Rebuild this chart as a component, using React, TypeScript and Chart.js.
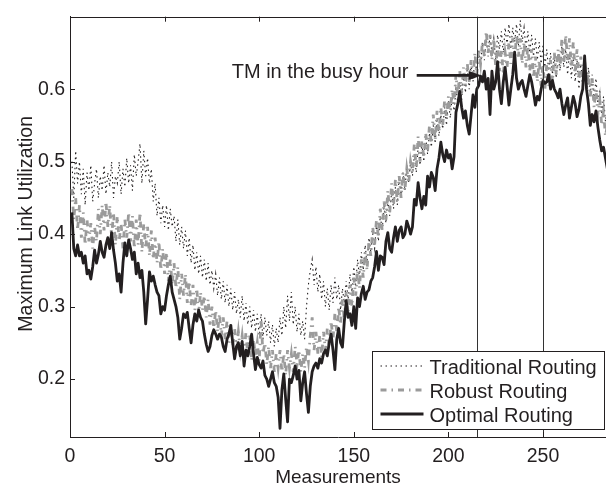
import React, { useEffect, useRef } from "react";
import { Chart, registerables } from "chart.js";

Chart.register(...registerables);

// ---------------- data ----------------
const seriesLabels = ["Traditional Routing", "Robust Routing", "Optimal Routing"];
const xTitle = "Measurements";
const yTitle = "Maximum Link Utilization";
const xTicks = [0, 50, 100, 150, 200, 250];
const yTicks = [0.2, 0.3, 0.4, 0.5, 0.6];
const busyHourBounds = [215, 250];
const annotationText = "TM in the busy hour";
const annotationPoint = { x: 217.6, y: 0.619 };
const xRange = [0, 283.3];
const yRange = [0.12, 0.7];

const traditionalRouting = [
  0.5, 0.45, 0.515, 0.47, 0.5, 0.455, 0.49, 0.44, 0.485, 0.46,
  0.495, 0.445, 0.47, 0.49, 0.45, 0.48, 0.46, 0.495, 0.455, 0.485,
  0.465, 0.5, 0.45, 0.48, 0.47, 0.5, 0.455, 0.49, 0.465, 0.505,
  0.47, 0.495, 0.46, 0.51, 0.48, 0.5, 0.525, 0.47, 0.515, 0.48,
  0.505, 0.47, 0.49, 0.445, 0.47, 0.425, 0.45, 0.415, 0.44, 0.41,
  0.44, 0.405, 0.435, 0.41, 0.425, 0.39, 0.42, 0.385, 0.41, 0.38,
  0.405, 0.37, 0.395, 0.36, 0.385, 0.35, 0.375, 0.345, 0.37, 0.34,
  0.365, 0.335, 0.36, 0.33, 0.35, 0.325, 0.345, 0.315, 0.34, 0.31,
  0.335, 0.305, 0.33, 0.3, 0.325, 0.295, 0.32, 0.29, 0.31, 0.285,
  0.315, 0.28, 0.305, 0.275, 0.3, 0.27, 0.295, 0.265, 0.29, 0.26,
  0.29, 0.255, 0.285, 0.26, 0.28, 0.25, 0.275, 0.245, 0.27, 0.25,
  0.285, 0.26, 0.3, 0.27, 0.315, 0.28, 0.32, 0.275, 0.3, 0.265,
  0.29, 0.26, 0.28, 0.255, 0.3, 0.33, 0.35, 0.365, 0.33, 0.355,
  0.32, 0.345, 0.31, 0.335, 0.3, 0.325, 0.295, 0.33, 0.305, 0.34,
  0.31, 0.33, 0.295, 0.325, 0.305, 0.335, 0.31, 0.345, 0.32, 0.355,
  0.33, 0.365, 0.34, 0.375, 0.35, 0.385, 0.36, 0.395, 0.375, 0.4,
  0.38, 0.415, 0.39, 0.425, 0.405, 0.44, 0.415, 0.45, 0.425, 0.46,
  0.435, 0.465, 0.44, 0.48, 0.45, 0.485, 0.46, 0.495, 0.47, 0.5,
  0.48, 0.51, 0.485, 0.52, 0.495, 0.525, 0.5, 0.535, 0.51, 0.54,
  0.52, 0.55, 0.525, 0.56, 0.535, 0.565, 0.545, 0.575, 0.55, 0.585,
  0.56, 0.59, 0.57, 0.6, 0.58, 0.61, 0.585, 0.62, 0.595, 0.63,
  0.6, 0.635, 0.61, 0.645, 0.62, 0.655, 0.63, 0.665, 0.64, 0.67,
  0.645, 0.675, 0.65, 0.67, 0.64, 0.675, 0.655, 0.68, 0.65, 0.685,
  0.66, 0.69, 0.655, 0.685, 0.665, 0.69, 0.66, 0.695, 0.665, 0.685,
  0.655, 0.68, 0.65, 0.675, 0.645, 0.67, 0.64, 0.665, 0.635, 0.66,
  0.63, 0.655, 0.625, 0.65, 0.62, 0.645, 0.615, 0.65, 0.625, 0.66,
  0.63, 0.655, 0.62, 0.65, 0.615, 0.645, 0.61, 0.64, 0.6, 0.635,
  0.605, 0.64, 0.6, 0.63, 0.595, 0.62, 0.585, 0.615, 0.58, 0.6,
  0.565, 0.59, 0.555, 0.575,
];

const robustRouting = [
  0.462, 0.42, 0.45, 0.405, 0.44, 0.395, 0.43, 0.385, 0.42, 0.39,
  0.415, 0.38, 0.41, 0.39, 0.435, 0.4, 0.44, 0.405, 0.445, 0.41,
  0.44, 0.395, 0.43, 0.385, 0.425, 0.39, 0.415, 0.38, 0.42, 0.395,
  0.43, 0.39, 0.425, 0.38, 0.42, 0.385, 0.43, 0.375, 0.415, 0.38,
  0.41, 0.37, 0.405, 0.365, 0.395, 0.36, 0.39, 0.35, 0.38, 0.345,
  0.375, 0.335, 0.365, 0.33, 0.36, 0.325, 0.355, 0.31, 0.345, 0.315,
  0.345, 0.305, 0.335, 0.3, 0.33, 0.295, 0.325, 0.29, 0.32, 0.295,
  0.315, 0.285, 0.31, 0.275, 0.3, 0.27, 0.295, 0.265, 0.29, 0.26,
  0.285, 0.255, 0.28, 0.25, 0.275, 0.245, 0.27, 0.24, 0.265, 0.24,
  0.26, 0.235, 0.265, 0.23, 0.26, 0.225, 0.255, 0.23, 0.25, 0.225,
  0.28, 0.235, 0.25, 0.22, 0.245, 0.215, 0.24, 0.21, 0.235, 0.215,
  0.24, 0.21, 0.235, 0.205, 0.24, 0.215, 0.235, 0.21, 0.245, 0.22,
  0.24, 0.21, 0.235, 0.215, 0.245, 0.225, 0.26, 0.285, 0.24, 0.265,
  0.235, 0.26, 0.23, 0.265, 0.24, 0.27, 0.245, 0.28, 0.255, 0.29,
  0.265, 0.3, 0.275, 0.31, 0.28, 0.32, 0.29, 0.33, 0.3, 0.34,
  0.315, 0.35, 0.325, 0.365, 0.34, 0.375, 0.35, 0.39, 0.37, 0.41,
  0.385, 0.42, 0.395, 0.435, 0.405, 0.445, 0.42, 0.46, 0.43, 0.47,
  0.44, 0.475, 0.445, 0.48, 0.45, 0.485, 0.46, 0.49, 0.47, 0.5,
  0.485, 0.525, 0.49, 0.535, 0.5, 0.53, 0.505, 0.54, 0.515, 0.55,
  0.525, 0.565, 0.53, 0.57, 0.54, 0.575, 0.55, 0.585, 0.56, 0.59,
  0.57, 0.6, 0.58, 0.62, 0.59, 0.625, 0.595, 0.63, 0.605, 0.635,
  0.61, 0.64, 0.615, 0.65, 0.62, 0.655, 0.635, 0.665, 0.645, 0.68,
  0.65, 0.675, 0.64, 0.67, 0.63, 0.66, 0.625, 0.655, 0.62, 0.65,
  0.63, 0.665, 0.635, 0.67, 0.64, 0.675, 0.645, 0.67, 0.635, 0.665,
  0.63, 0.66, 0.625, 0.655, 0.615, 0.645, 0.61, 0.64, 0.605, 0.635,
  0.6, 0.635, 0.605, 0.64, 0.61, 0.65, 0.62, 0.655, 0.63, 0.67,
  0.635, 0.675, 0.64, 0.67, 0.63, 0.665, 0.625, 0.655, 0.615, 0.645,
  0.61, 0.64, 0.6, 0.625, 0.59, 0.615, 0.575, 0.6, 0.565, 0.585,
  0.55, 0.57, 0.535, 0.55,
];

const optimalRouting = [
  0.43, 0.38, 0.37, 0.385, 0.37, 0.375, 0.36, 0.37, 0.345, 0.35,
  0.338, 0.355, 0.378, 0.36, 0.372, 0.39, 0.375, 0.368, 0.385, 0.395,
  0.38, 0.402, 0.378, 0.36, 0.335, 0.345, 0.32, 0.36, 0.388, 0.37,
  0.392, 0.38, 0.365, 0.375, 0.345, 0.36, 0.34, 0.35, 0.32, 0.276,
  0.31, 0.348, 0.335, 0.342, 0.33, 0.32, 0.315, 0.29, 0.3, 0.295,
  0.315, 0.33, 0.342, 0.32, 0.31, 0.3, 0.285, 0.255, 0.27, 0.29,
  0.285, 0.292, 0.27, 0.25, 0.275, 0.29, 0.28, 0.295, 0.285, 0.28,
  0.262, 0.248, 0.238, 0.245, 0.26, 0.268, 0.262, 0.255, 0.262, 0.258,
  0.245, 0.238, 0.255, 0.262, 0.274, 0.25, 0.228, 0.245, 0.25, 0.232,
  0.252, 0.218, 0.24, 0.232, 0.245, 0.262, 0.235, 0.213, 0.23, 0.22,
  0.215, 0.225, 0.205, 0.2, 0.19, 0.2, 0.21, 0.195, 0.19, 0.175,
  0.132, 0.185, 0.207, 0.172, 0.141, 0.2, 0.195, 0.205, 0.218, 0.2,
  0.212, 0.17, 0.195, 0.21, 0.18, 0.154, 0.19, 0.21, 0.218, 0.222,
  0.215, 0.228, 0.222, 0.235, 0.24, 0.232, 0.25, 0.262, 0.24, 0.213,
  0.255, 0.27, 0.25, 0.244, 0.28, 0.308, 0.285, 0.29, 0.274, 0.3,
  0.27, 0.312, 0.3, 0.318, 0.328, 0.31, 0.32, 0.323, 0.335, 0.34,
  0.355, 0.376, 0.35, 0.37, 0.368, 0.358, 0.39, 0.402, 0.38, 0.375,
  0.395, 0.41, 0.39, 0.405, 0.41, 0.395, 0.4, 0.418, 0.41, 0.4,
  0.41, 0.448, 0.44, 0.471, 0.45, 0.435, 0.452, 0.44, 0.48, 0.465,
  0.485, 0.478, 0.46, 0.49, 0.505, 0.527, 0.51, 0.5, 0.516, 0.505,
  0.51, 0.49, 0.507, 0.568, 0.58, 0.597, 0.575, 0.56, 0.57, 0.55,
  0.538, 0.565, 0.592, 0.575, 0.6, 0.605, 0.618, 0.61, 0.625, 0.6,
  0.615, 0.565, 0.625, 0.6, 0.61, 0.638, 0.6, 0.58, 0.61, 0.63,
  0.605, 0.578, 0.6, 0.62, 0.651, 0.615, 0.6, 0.608, 0.612, 0.6,
  0.59, 0.605, 0.62, 0.61, 0.595, 0.578, 0.59, 0.585, 0.6, 0.612,
  0.608, 0.61, 0.62, 0.6, 0.612, 0.6, 0.595, 0.588, 0.6, 0.58,
  0.565, 0.578, 0.588, 0.56, 0.575, 0.59, 0.58, 0.562, 0.572, 0.59,
  0.6, 0.646, 0.6, 0.58, 0.55, 0.565, 0.555, 0.57, 0.548, 0.53,
  0.515, 0.52, 0.505, 0.49,
];

// ---------------- styling ----------------
const FONT_FAMILY = '"Liberation Sans", Arial, Helvetica, sans-serif';
const TICK_SIZE = 19.5;
const TEXT_SIZE = 20;
const INK = "#231f20";
const GRAY = "#9b9b9b";

const toPoints = (vals: number[]) => vals.map((v, i) => ({ x: i + 1, y: v }));

const decorPlugin = {
  id: "decor",
  afterDatasetsDraw(chart: any) {
    const { ctx, chartArea: a, scales } = chart;
    const xs = scales.x;
    const ys = scales.y;
    ctx.save();

    // busy hour vertical lines
    ctx.strokeStyle = "#333";
    ctx.lineWidth = 1;
    ctx.setLineDash([]);
    busyHourBounds.forEach((v) => {
      const px = Math.round(xs.getPixelForValue(v)) + 0.5;
      ctx.beginPath();
      ctx.moveTo(px, a.top);
      ctx.lineTo(px, a.bottom);
      ctx.stroke();
    });

    // top box line
    ctx.strokeStyle = INK;
    ctx.beginPath();
    ctx.moveTo(a.left, Math.round(a.top) + 0.5);
    ctx.lineTo(a.right, Math.round(a.top) + 0.5);
    ctx.stroke();

    // inward ticks
    const tl = 5;
    xTicks.forEach((v) => {
      const px = Math.round(xs.getPixelForValue(v)) + 0.5;
      ctx.beginPath();
      ctx.moveTo(px, a.bottom);
      ctx.lineTo(px, a.bottom - tl);
      ctx.moveTo(px, a.top);
      ctx.lineTo(px, a.top + tl);
      ctx.stroke();
    });
    yTicks.forEach((v) => {
      const py = Math.round(ys.getPixelForValue(v)) + 0.5;
      ctx.beginPath();
      ctx.moveTo(a.left, py);
      ctx.lineTo(a.left + tl, py);
      ctx.stroke();
    });

    // annotation
    const tx = xs.getPixelForValue(annotationPoint.x);
    const ty = ys.getPixelForValue(annotationPoint.y);
    ctx.font = `${TEXT_SIZE}px ${FONT_FAMILY}`;
    ctx.fillStyle = INK;
    ctx.textAlign = "left";
    ctx.textBaseline = "alphabetic";
    ctx.fillText(annotationText, tx - 250, ty + 3);
    ctx.strokeStyle = INK;
    ctx.lineWidth = 2.6;
    ctx.beginPath();
    ctx.moveTo(tx - 65, ty);
    ctx.lineTo(tx - 10, ty);
    ctx.stroke();
    ctx.beginPath();
    ctx.moveTo(tx, ty);
    ctx.lineTo(tx - 13, ty - 4.5);
    ctx.lineTo(tx - 13, ty + 4.5);
    ctx.closePath();
    ctx.fill();

    // axis titles
    ctx.textAlign = "center";
    ctx.font = `19px ${FONT_FAMILY}`;
    ctx.fillText(xTitle, (a.left + a.right) / 2, 483);
    ctx.save();
    ctx.font = `${TICK_SIZE}px ${FONT_FAMILY}`;
    ctx.translate(31.5, (a.top + a.bottom) / 2 - 3);
    ctx.rotate(-Math.PI / 2);
    ctx.fillText(yTitle, 0, 0);
    ctx.restore();

    // legend
    ctx.font = `${TEXT_SIZE}px ${FONT_FAMILY}`;
    const w = 232;
    const h = 78;
    const lx = Math.round(a.right - 2 - w) + 0.5;
    const ly = Math.round(a.bottom - 8 - h) + 0.5;
    ctx.fillStyle = "#fff";
    ctx.fillRect(lx, ly, w, h);
    ctx.strokeStyle = INK;
    ctx.lineWidth = 1;
    ctx.setLineDash([]);
    ctx.strokeRect(lx, ly, w, h);
    const dsets = chart.data.datasets;
    dsets.forEach((ds: any, k: number) => {
      const base = ly + 22 + k * 24;
      const sy = base - 7.5;
      ctx.strokeStyle = ds.borderColor;
      ctx.lineWidth = ds.borderWidth;
      ctx.setLineDash(ds.borderDash || []);
      ctx.beginPath();
      ctx.moveTo(lx + 8, sy);
      ctx.lineTo(lx + 51, sy);
      ctx.stroke();
      ctx.setLineDash([]);
      ctx.fillStyle = INK;
      ctx.textAlign = "left";
      ctx.fillText(ds.label, lx + 57, base);
    });

    ctx.restore();
  },
};

export default function App() {
  const ref = useRef<HTMLCanvasElement>(null);

  useEffect(() => {
    if (!ref.current) return;
    const tickFont = { family: FONT_FAMILY, size: TICK_SIZE };
    const chart = new Chart(ref.current, {
      type: "line",
      data: {
        datasets: [
          {
            label: seriesLabels[0],
            data: toPoints(traditionalRouting),
            borderColor: INK,
            borderWidth: 1.1,
            borderDash: [1.5, 3.5],
            pointRadius: 0,
            tension: 0,
            order: 2,
          },
          {
            label: seriesLabels[1],
            data: toPoints(robustRouting),
            borderColor: GRAY,
            borderWidth: 2.8,
            borderDash: [6, 5, 1.5, 5],
            pointRadius: 0,
            tension: 0,
            order: 1,
          },
          {
            label: seriesLabels[2],
            data: toPoints(optimalRouting),
            borderColor: INK,
            borderWidth: 2.8,
            borderJoinStyle: "round",
            pointRadius: 0,
            tension: 0,
            order: 0,
          },
        ],
      },
      options: {
        animation: false,
        responsive: false,
        events: [],
        layout: { padding: { top: 6, left: 0, right: 0, bottom: 0 } },
        plugins: {
          legend: { display: false },
          tooltip: { enabled: false },
          title: { display: false },
        },
        scales: {
          x: {
            type: "linear",
            min: xRange[0],
            max: xRange[1],
            afterBuildTicks: (s: any) => {
              s.ticks = xTicks.map((v) => ({ value: v }));
            },
            afterFit: (s: any) => {
              s.height = 49;
            },
            grid: { display: false, drawTicks: false },
            border: { display: true, color: INK, width: 1 },
            ticks: {
              font: tickFont,
              color: INK,
              padding: 8,
              maxRotation: 0,
              autoSkip: false,
              callback: (v: any) => String(v),
            },
          },
          y: {
            type: "linear",
            min: yRange[0],
            max: yRange[1],
            afterBuildTicks: (s: any) => {
              s.ticks = yTicks.map((v) => ({ value: v }));
            },
            afterFit: (s: any) => {
              s.width = 70;
            },
            grid: { display: false, drawTicks: false },
            border: { display: true, color: INK, width: 1 },
            ticks: {
              font: tickFont,
              color: INK,
              padding: 5,
              autoSkip: false,
              callback: (v: any) => Number(v).toFixed(1),
            },
          },
        },
      },
      plugins: [decorPlugin],
    } as any);
    return () => chart.destroy();
  }, []);

  return (
    <canvas
      ref={ref}
      width={606}
      height={486}
      style={{ position: "absolute", left: 0, top: 0, width: 606, height: 486, display: "block" }}
    />
  );
}
